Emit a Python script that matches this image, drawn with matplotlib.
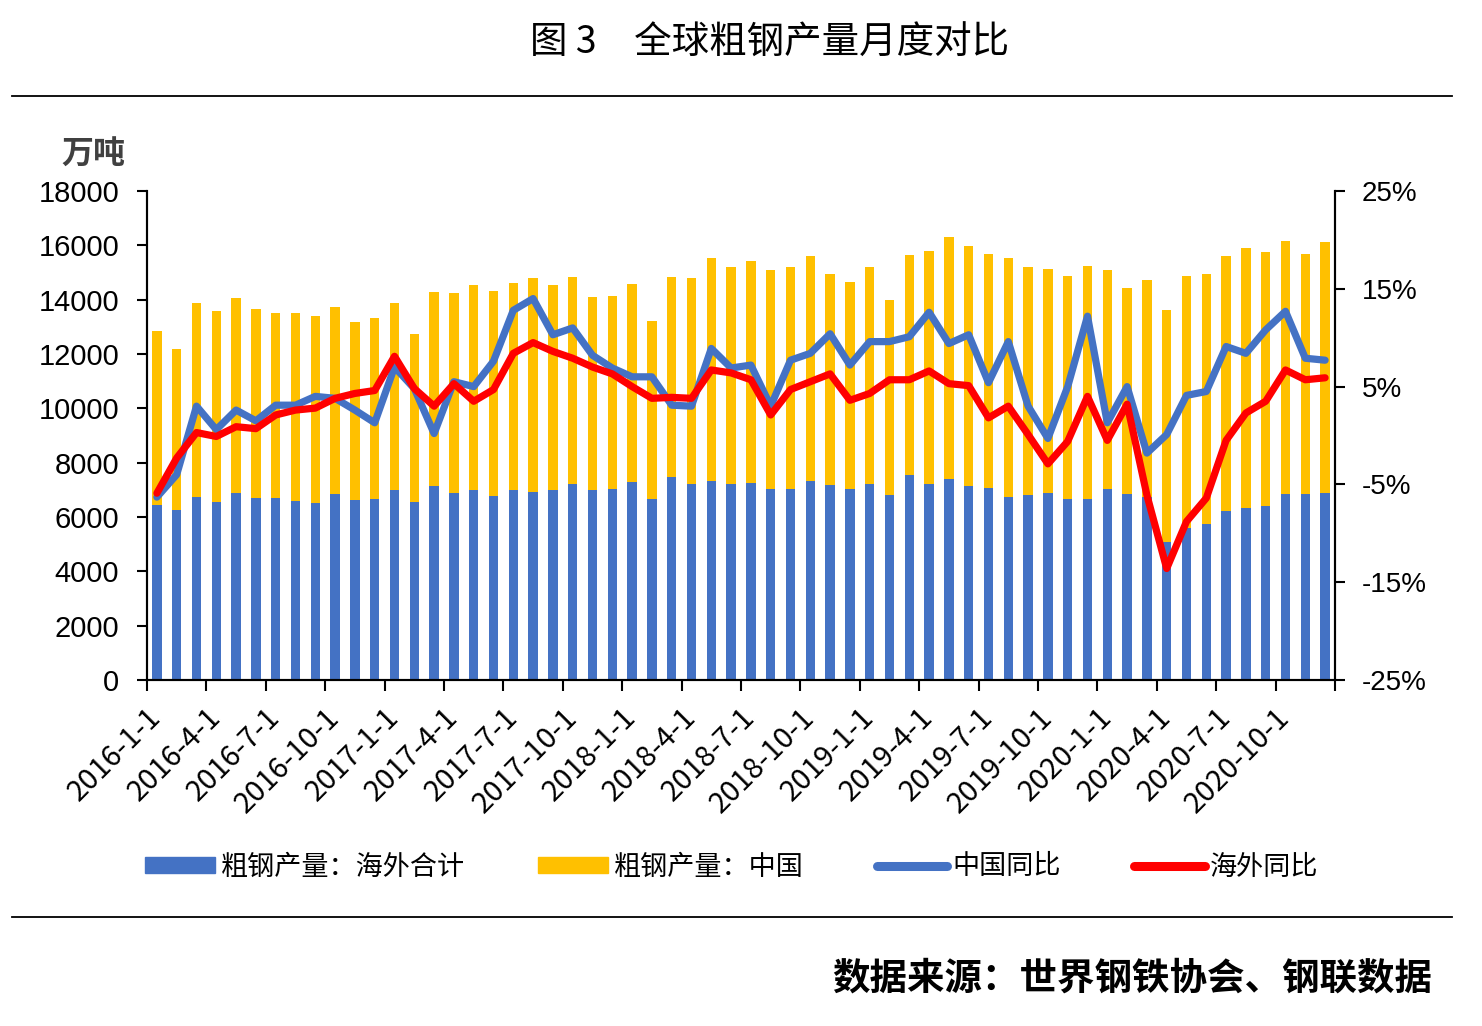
import matplotlib
matplotlib.use("Agg")
import matplotlib.pyplot as plt
from matplotlib.lines import Line2D
from matplotlib.patches import Patch
import numpy as np

# ---- data ----
months = [f"{y}-{m}-1" for y in range(2016, 2021) for m in range(1, 13)]

overseas = [6450, 6250, 6750, 6550, 6900, 6690, 6710, 6590, 6530, 6860, 6610, 6650,
            7000, 6550, 7150, 6870, 7000, 6790, 6980, 6910, 6990, 7210, 7000, 7030,
            7300, 6650, 7470, 7210, 7320, 7210, 7240, 7030, 7030, 7320, 7180, 7030,
            7210, 6810, 7560, 7230, 7390, 7130, 7060, 6740, 6800, 6900, 6660, 6660,
            7020, 6860, 6750, 5070, 5580, 5760, 6210, 6340, 6410, 6860, 6860, 6900]

total = [12850, 12180, 13870, 13570, 14060, 13670, 13500, 13500, 13410, 13730, 13180, 13310,
         13870, 12750, 14280, 14250, 14550, 14320, 14610, 14810, 14540, 14850, 14090, 14150,
         14580, 13230, 14850, 14810, 15520, 15190, 15420, 15100, 15190, 15620, 14960, 14640,
         15190, 13990, 15650, 15780, 16300, 15980, 15680, 15550, 15190, 15130, 14860, 15230,
         15100, 14420, 14710, 13620, 14860, 14960, 15620, 15910, 15760, 16150, 15690, 16110]

china = [t - o for t, o in zip(total, overseas)]

china_yoy = [-6.3, -4.0, 3.0, 0.6, 2.6, 1.5, 3.1, 3.1, 4.0, 3.8, 2.6, 1.3,
             7.0, 4.8, 0.2, 5.5, 5.0, 7.6, 12.8, 14.0, 10.3, 11.0, 8.2, 6.9,
             6.0, 6.0, 3.1, 3.0, 8.9, 6.9, 7.2, 3.0, 7.7, 8.4, 10.4, 7.2,
             9.6, 9.6, 10.1, 12.6, 9.4, 10.3, 5.4, 9.6, 3.0, -0.3, 5.0, 12.2,
             1.3, 5.0, -1.8, 0.1, 4.1, 4.5, 9.1, 8.4, 10.8, 12.7, 7.9, 7.7]

overseas_yoy = [-5.9, -2.3, 0.3, -0.1, 0.9, 0.7, 2.1, 2.6, 2.8, 3.8, 4.3, 4.6,
                8.1, 4.8, 3.0, 5.3, 3.5, 4.7, 8.4, 9.5, 8.6, 7.9, 7.0, 6.3,
                5.0, 3.8, 3.9, 3.8, 6.7, 6.4, 5.7, 2.1, 4.7, 5.5, 6.3, 3.6,
                4.3, 5.7, 5.7, 6.6, 5.3, 5.1, 1.8, 3.0, 0.1, -2.9, -0.6, 4.0,
                -0.5, 3.2, -6.1, -13.6, -8.8, -6.4, -0.5, 2.3, 3.5, 6.7, 5.7, 5.9]

left_ticks = [0, 2000, 4000, 6000, 8000, 10000, 12000, 14000, 16000, 18000]
right_ticks = [-25, -15, -5, 5, 15, 25]

legend_labels = ["粗钢产量：海外合计", "粗钢产量：中国", "中国同比", "海外同比"]

# ---- style ----
BLUE = "#4472C4"
YELLOW = "#FFC000"
RED = "#FF0000"
CJK = ["Noto Sans CJK SC", "DejaVu Sans"]
NUM = ["Liberation Sans", "DejaVu Sans"]
NARROW = ["Liberation Sans Narrow", "Liberation Sans", "DejaVu Sans"]

fig = plt.figure(figsize=(14.82, 10.26), dpi=100)
W, H = 1482, 1026
ax = fig.add_axes([147 / W, 1 - 680 / H, (1335 - 147) / W, (680 - 191) / H])
ax2 = ax.twinx()

x = np.arange(len(months))
bw = 0.48
ax.bar(x, overseas, width=bw, color=BLUE, zorder=2)
ax.bar(x, china, width=bw, bottom=overseas, color=YELLOW, zorder=2)

ax2.plot(x, china_yoy, color=BLUE, lw=5.2, solid_joinstyle="round",
         solid_capstyle="round", zorder=3)
ax2.plot(x, overseas_yoy, color=RED, lw=5.2, solid_joinstyle="round",
         solid_capstyle="round", zorder=4)

ax.set_xlim(-0.5, len(months) - 0.5)
ax.set_ylim(0, 18000)
ax2.set_ylim(-25, 25)

ax.set_yticks(left_ticks)
ax.set_yticklabels([str(v) for v in left_ticks], family=NUM, fontsize=21)
ax2.set_yticks(right_ticks)
ax2.set_yticklabels([f"{v}%" for v in right_ticks], family=NARROW, fontsize=20)

# x ticks at category boundaries every 3, labels at category centers
ax.set_xticks(np.arange(-0.5, len(months), 3))
ax.set_xticklabels([])
ax.set_xticks(x[::3], minor=True)
ax.set_xticklabels([months[i] for i in x[::3]], minor=True, rotation=45,
                   ha="right", va="center", rotation_mode="anchor",
                   family=CJK, fontsize=21)
ax.tick_params(axis="x", which="minor", length=0, pad=24)
ax.tick_params(axis="x", which="major", length=8, width=1.5, direction="out")
ax.tick_params(axis="y", length=7, width=1.5, pad=13)
ax2.tick_params(axis="y", length=7, width=1.5, pad=12)

for a in (ax, ax2):
    a.spines["top"].set_visible(False)
    for s in ("left", "right", "bottom"):
        a.spines[s].set_linewidth(1.5)
        a.spines[s].set_color("black")

# ---- texts ----
fig.text(770 / W, 1 - 43 / H, "图 3　全球粗钢产量月度对比", family=CJK,
         fontsize=27, fontweight="medium", ha="center", va="center")
fig.text(125 / W, 1 - 155 / H, "万吨", family=CJK, fontsize=23,
         fontweight="bold", color="#404040", ha="right", va="center")
fig.text(1432 / W, 1 - 978 / H, "数据来源：世界钢铁协会、钢联数据", family=CJK,
         fontsize=27, fontweight="bold", ha="right", va="center")

for yy in (96, 917):
    fig.add_artist(Line2D([12 / W, 1452 / W], [1 - yy / H, 1 - yy / H],
                          color="black", lw=1.3, transform=fig.transFigure))

# ---- legend ----
handles = [Patch(color=BLUE), Patch(color=YELLOW),
           Line2D([], [], color=BLUE, lw=6.5, solid_capstyle="round"),
           Line2D([], [], color=RED, lw=6.5, solid_capstyle="round")]
leg = fig.legend(handles, legend_labels, loc="center left",
                 bbox_to_anchor=(145 / W, 1 - 867 / H), ncol=4, frameon=False,
                 prop={"family": CJK, "size": 19.5}, handlelength=2.6,
                 handleheight=0.55, handletextpad=0.2, columnspacing=2.7,
                 borderaxespad=0, borderpad=0)

fig.savefig("out.png", dpi=100, facecolor="white")
